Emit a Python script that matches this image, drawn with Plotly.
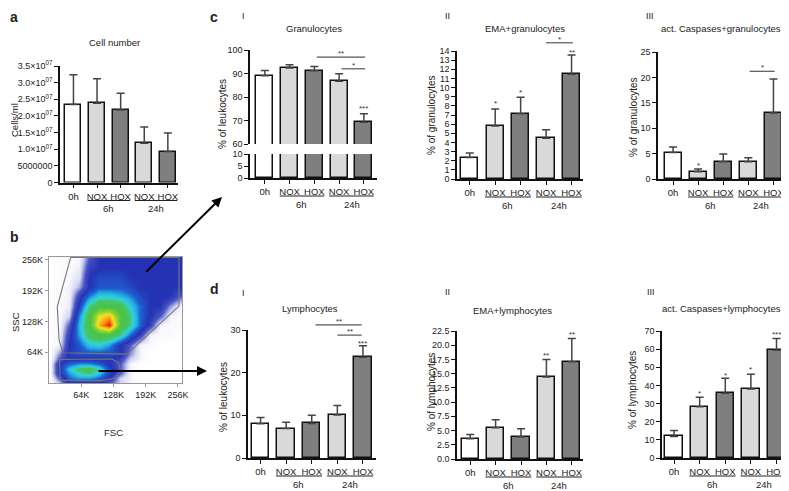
import plotly.graph_objects as go

# page body has an 8px margin: the figure is drawn at (8, 8) in the window
OFF = 8
W, H = 789 - OFF, 491 - OFF

# ---------------- data ----------------
categories = ["0h", "NOX", "HOX", "NOX", "HOX"]
groups = ["6h", "24h"]
fill_colors = ["#ffffff", "#d9d9d9", "#7f7f7f", "#d9d9d9", "#7f7f7f"]

cell_mean = [2.34e7, 2.38e7, 2.18e7, 1.18e7, 0.93e7]
cell_sem = [0.90e7, 0.74e7, 0.50e7, 0.49e7, 0.56e7]
cell_tickvals = [0, 5e6, 1e7, 1.5e7, 2e7, 2.5e7, 3e7, 3.5e7]
cell_ticktext = ["0", "5000000", "1.0×10<sup>07</sup>", "1.5×10<sup>07</sup>",
                 "2.0×10<sup>07</sup>", "2.5×10<sup>07</sup>", "3.0×10<sup>07</sup>",
                 "3.5×10<sup>07</sup>"]

gran_mean = [89.0, 92.3, 91.2, 86.7, 69.3]
gran_sem = [2.3, 1.4, 1.8, 3.2, 3.6]
gran_stars = [(4, 76.0, "***")]
gran_lines = [(2.1, 4.05, 97.0, "**"), (3.1, 4.05, 92.0, "*")]

emag_mean = [2.35, 5.8, 7.15, 4.45, 11.45]
emag_sem = [0.5, 1.85, 1.8, 0.95, 2.1]
emag_stars = [(1, 8.5, "*"), (2, 9.7, "*"), (4, 14.0, "**")]
emag_lines = [(3.0, 4.05, 14.9, "*")]

casg_mean = [5.2, 1.45, 3.4, 3.4, 13.0]
casg_sem = [1.1, 0.5, 1.5, 0.8, 6.7]
casg_stars = [(1, 3.0, "*")]
casg_lines = [(3.05, 4.05, 21.2, "*")]

lym_mean = [8.0, 6.9, 8.1, 10.1, 23.6]
lym_sem = [1.5, 1.5, 1.9, 2.2, 2.7]
lym_stars = [(4, 27.3, "***")]
lym_lines = [(2.15, 3.95, 31.2, "**"), (3.0, 3.95, 28.8, "**")]

emal_mean = [3.55, 5.5, 3.85, 14.4, 17.1]
emal_sem = [0.75, 1.4, 1.45, 3.1, 4.1]
emal_stars = [(3, 18.6, "**"), (4, 22.3, "**")]

casl_mean = [11.9, 28.3, 35.7, 38.0, 59.4]
casl_sem = [3.3, 5.2, 8.2, 8.1, 6.4]
casl_stars = [(1, 36.8, "*"), (2, 46.6, "*"), (3, 50.0, "*"), (4, 69.0, "***")]

# flow cytometry density (FSC / SSC in thousands)
fsc_k = [0, 20, 40, 60, 80, 100, 120, 140, 160, 180, 200, 220, 240, 260]
ssc_k = [0, 10, 20, 30, 40, 50, 60, 80, 100, 120, 140, 160, 180, 200, 220, 240, 260]
density = [
    [0, 1.0, 3.0, 3.0, 3.0, 3.0, 2.0, 1.0, 0.5, 0, 0, 0, 0, 0],
    [0, 2.0, 4.0, 4.5, 4.5, 4.0, 3.0, 1.0, 0.5, 0, 0, 0, 0, 0],
    [0, 3.0, 4.5, 5.5, 6.0, 5.0, 3.5, 2.0, 0.5, 0, 0, 0, 0, 0],
    [0, 3.0, 5.0, 6.2, 6.6, 5.5, 3.5, 2.0, 0.5, 0, 0, 0, 0, 0],
    [0, 3.0, 4.0, 4.5, 4.5, 4.0, 3.0, 2.0, 0.5, 0, 0, 0, 0, 0],
    [0, 2.0, 3.0, 3.0, 3.0, 3.0, 3.0, 2.5, 1.0, 0.5, 0, 0, 0, 0],
    [0, 1.5, 3.2, 3.6, 3.6, 3.6, 3.6, 3.2, 1.5, 0.5, 0, 0, 0, 0],
    [0, 0.6, 3.0, 3.8, 5.0, 5.2, 4.5, 3.0, 2.0, 0.5, 0.3, 0, 0, 0],
    [0, 0.4, 2.6, 4.6, 6.3, 6.8, 6.8, 5.8, 4.0, 2.5, 0.5, 0.3, 0.3, 0],
    [0, 0.3, 2.0, 4.8, 6.8, 9.0, 10.0, 7.2, 5.8, 4.0, 2.5, 0.5, 0.3, 0.3],
    [0, 0.3, 1.0, 4.3, 6.8, 8.5, 9.0, 7.2, 5.8, 4.0, 3.0, 2.0, 0.5, 0.3],
    [0, 0.3, 0.6, 3.3, 5.8, 6.8, 6.8, 6.6, 5.2, 4.0, 3.0, 3.0, 1.5, 0.5],
    [0, 0.3, 0.5, 2.5, 4.2, 5.2, 5.2, 4.8, 4.3, 3.5, 3.0, 3.0, 3.0, 2.0],
    [0, 0.3, 0.5, 1.3, 3.0, 3.8, 3.8, 3.8, 3.5, 3.0, 3.0, 3.0, 3.0, 3.0],
    [0, 0.2, 0.4, 0.8, 3.0, 3.5, 3.5, 3.5, 3.0, 3.0, 3.0, 3.0, 3.0, 3.0],
    [0, 0.2, 0.3, 0.6, 2.5, 3.0, 3.0, 3.0, 3.0, 3.0, 3.0, 3.0, 3.0, 3.0],
    [0, 0.2, 0.3, 0.4, 2.0, 3.0, 3.0, 3.0, 3.0, 3.0, 3.0, 3.0, 3.0, 3.0],
]
gran_gate_x = [43, 16.5, 20, 28, 155, 258, 258, 43]
gran_gate_y = [261, 159, 89, 63, 60, 160, 261, 261]
lym_gate_x = [21, 22, 105, 130, 142, 138, 125, 21]
lym_gate_y = [49, 6, 5, 10, 25, 42, 50, 49]
flow_tickvals = [64, 128, 192, 256]
flow_ticktext = ["64K", "128K", "192K", "256K"]

# ---------------- helpers ----------------
FONT = "Liberation Sans, Arial, sans-serif"


def px(x):
    return (x - OFF) / W


def py(y):
    return 1 - (y - OFF) / H


def ref(kind, n):
    return kind if n == 1 else f"{kind}{n}"


def axname(kind, n):
    return f"{kind}axis" if n == 1 else f"{kind}axis{n}"


fig = go.Figure()
axes = {}
annotations = []
shapes = []


def add_panel(n, means, sems, xdom, xr, ydom, yr, ytickvals, yticktext=None,
              yfmt=None, show_x=True, err=True):
    xa, ya = ref("x", n), ref("y", n)
    fig.add_trace(go.Bar(
        x=list(range(len(categories))), y=means, xaxis=xa, yaxis=ya, width=0.68,
        marker=dict(color=fill_colors, line=dict(color="#111111", width=1.5)),
        error_y=dict(type="data", symmetric=False, array=sems,
                     arrayminus=[0] * len(sems), color="#444444",
                     thickness=1.5, width=4, visible=err),
        showlegend=False, hoverinfo="skip"))
    axes[axname("x", n)] = dict(
        domain=[px(xdom[0]), px(xdom[1])], range=list(xr), anchor=ya,
        visible=show_x, showline=True, linecolor="#111111", linewidth=1.5,
        ticks="outside", ticklen=4, tickwidth=1.2, tickcolor="#111111",
        tickvals=list(range(len(categories))), ticktext=categories,
        tickfont=dict(size=9.5, color="#222222", family=FONT),
        showgrid=False, zeroline=False, fixedrange=True, automargin=False)
    yax = dict(
        domain=[py(ydom[1]), py(ydom[0])], range=list(yr), anchor=xa,
        showline=True, linecolor="#111111", linewidth=1.5,
        ticks="outside", ticklen=4, tickwidth=1.2, tickcolor="#111111",
        tickvals=ytickvals, tickfont=dict(size=9, color="#222222", family=FONT),
        showgrid=False, zeroline=False, fixedrange=True, automargin=False)
    if yticktext is not None:
        yax["ticktext"] = yticktext
    if yfmt is not None:
        yax["tickformat"] = yfmt
    axes[axname("y", n)] = yax


def add_groups(n, bottom):
    xa = ref("x", n)
    for (x0, x1), label in zip([(0.6, 2.4), (2.6, 4.4)], groups):
        shapes.append(dict(type="line", xref=xa, yref="paper", x0=x0, x1=x1,
                           y0=py(bottom + 18), y1=py(bottom + 18),
                           line=dict(color="#222222", width=1.2)))
        annotations.append(dict(x=(x0 + x1) / 2, y=py(bottom + 26), xref=xa,
                                yref="paper", text=label, showarrow=False,
                                xanchor="center", yanchor="middle",
                                font=dict(size=9.5, color="#222222")))


def add_stars(n, yr, stars, lines=()):
    xa, ya = ref("x", n), ref("y", n) + " domain"
    for x, v, t in stars:
        annotations.append(dict(x=x, y=(v - yr[0]) / (yr[1] - yr[0]), xref=xa,
                                yref=ya, text=t, showarrow=False, yshift=-2,
                                xanchor="center", yanchor="middle",
                                font=dict(size=8, color="#333333")))
    for x0, x1, v, t in lines:
        yy = (v - yr[0]) / (yr[1] - yr[0])
        shapes.append(dict(type="line", xref=xa, yref=ya, x0=x0, x1=x1, y0=yy,
                           y1=yy, line=dict(color="#555555", width=1.2)))
        annotations.append(dict(x=(x0 + x1) / 2, y=yy, xref=xa, yref=ya, text=t,
                                showarrow=False, xanchor="center",
                                yanchor="bottom", yshift=-3,
                                font=dict(size=8, color="#333333")))


def text(x, y, s, size=9.5, angle=0, bold=False):
    annotations.append(dict(x=px(x), y=py(y), xref="paper", yref="paper",
                            text=f"<b>{s}</b>" if bold else s, showarrow=False,
                            textangle=angle, xanchor="center", yanchor="middle",
                            font=dict(size=size, color="#222222")))


# ---------------- panel a ----------------
add_panel(1, cell_mean, cell_sem, (60, 178), (-0.57, 4.43), (66, 182.5),
          (0, 3.5e7), cell_tickvals, cell_ticktext)
add_groups(1, 182.5)
text(114, 42, "Cell number", 9.5)
text(14, 120, "Cells/ml", 9.5, -90)

# ---------------- panel c ----------------
yr_up, yr_lo = (60, 100), (0, 10)
add_panel(2, gran_mean, gran_sem, (250, 377), (-0.6, 4.53), (50, 144), yr_up,
          [60, 70, 80, 90, 100], show_x=False)
add_panel(3, gran_mean, gran_sem, (250, 377), (-0.6, 4.53), (154, 178), yr_lo,
          [0, 5, 10], err=False)
add_groups(3, 178)
add_stars(2, yr_up, gran_stars, gran_lines)

yr = (0, 14)
add_panel(4, emag_mean, emag_sem, (457, 583), (-0.5, 4.45), (51, 179), yr,
          list(range(15)))
add_groups(4, 179)
add_stars(4, yr, emag_stars, emag_lines)

yr = (0, 25)
add_panel(5, casg_mean, casg_sem, (658, 787), (-0.6, 4.54), (52, 179), yr,
          [0, 5, 10, 15, 20, 25])
add_groups(5, 179)
add_stars(5, yr, casg_stars, casg_lines)

# ---------------- panel d ----------------
yr = (0, 30)
add_panel(6, lym_mean, lym_sem, (248, 376), (-0.49, 4.51), (330, 458), yr,
          [0, 10, 20, 30])
add_groups(6, 458)
add_stars(6, yr, lym_stars, lym_lines)

yr = (0, 22.5)
add_panel(7, emal_mean, emal_sem, (457, 583), (-0.52, 4.44), (331, 459), yr,
          [0, 2.5, 5, 7.5, 10, 12.5, 15, 17.5, 20, 22.5], yfmt=".1f")
add_groups(7, 459)
add_stars(7, yr, emal_stars)

yr = (0, 70)
add_panel(8, casl_mean, casl_sem, (662, 787), (-0.47, 4.41), (331, 458), yr,
          [0, 10, 20, 30, 40, 50, 60, 70])
add_groups(8, 458)
add_stars(8, yr, casl_stars)

# ---------------- panel b (flow cytometry) ----------------
jet = [[0.0, "#ffffff"], [0.04, "#f8f8fd"], [0.1, "#d2d5f1"], [0.2, "#4a54c6"],
       [0.3, "#2433b4"], [0.4, "#1f5fd0"], [0.47, "#22b4e4"], [0.53, "#35d0d8"],
       [0.6, "#44c666"], [0.7, "#4cc244"], [0.78, "#86d230"], [0.86, "#f2e422"],
       [0.93, "#ff8a10"], [1.0, "#ee1212"]]
fig.add_trace(go.Heatmap(x=fsc_k, y=ssc_k, z=density, xaxis="x9", yaxis="y9",
                         colorscale=jet, zmin=0, zmax=10, zsmooth="best",
                         showscale=False, hoverinfo="skip"))
for gx, gy in [(gran_gate_x, gran_gate_y), (lym_gate_x, lym_gate_y)]:
    fig.add_trace(go.Scatter(x=gx, y=gy, xaxis="x9", yaxis="y9", mode="lines",
                             line=dict(color="#777777", width=1.1),
                             showlegend=False, hoverinfo="skip"))
flow_ax = dict(showline=True, mirror=True, linecolor="#999999", linewidth=1.2,
               ticks="outside", ticklen=3, tickcolor="#999999",
               tickvals=flow_tickvals, ticktext=flow_ticktext,
               tickfont=dict(size=9, color="#222222", family=FONT),
               showgrid=False, zeroline=False, fixedrange=True, automargin=False)
axes["xaxis9"] = dict(flow_ax, domain=[px(49), px(182)], range=[0, 264],
                      anchor="y9")
axes["yaxis9"] = dict(flow_ax, domain=[py(383), py(257)], range=[0, 262],
                      anchor="x9")
text(15, 322, "SSC", 9.5, -90)
text(113, 432, "FSC", 9.5)

# ---------------- labels ----------------
text(14, 17, "a", 14, bold=True)
text(14, 237, "b", 14, bold=True)
text(214, 17, "c", 14, bold=True)
text(214, 289, "d", 14, bold=True)
text(243, 16, "I", 9)
text(447, 16, "II", 9)
text(650, 16, "III", 9)
text(243, 293, "I", 9)
text(447, 292, "II", 9)
text(651, 292, "III", 9)
text(314, 28, "Granulocytes")
text(525, 29, "EMA+granulocytes")
text(721, 29, "act. Caspases+granulocytes")
text(310, 308, "Lymphocytes")
text(512, 310, "EMA+lymphocytes")
text(721, 308, "act. Caspases+lymphocytes")
text(222, 114, "% of leukocytes", 10, -90)
text(432, 115, "% of granulocytes", 10, -90)
text(633, 117, "% of granulocytes", 10, -90)
text(223, 397, "% of leukocytes", 10, -90)
text(431, 392, "% of lymphocytes", 10, -90)
text(632, 390, "% of lymphocytes", 10, -90)

# arrows from the scatter plot
annotations.append(dict(x=px(222), y=py(197), xref="paper", yref="paper",
                        ax=-77, ay=76, axref="pixel", ayref="pixel", text="",
                        showarrow=True, arrowhead=2, arrowsize=1, arrowwidth=2,
                        arrowcolor="#000000"))
annotations.append(dict(x=px(207), y=py(371), xref="paper", yref="paper",
                        ax=-110, ay=0, axref="pixel", ayref="pixel", text="",
                        showarrow=True, arrowhead=2, arrowsize=1, arrowwidth=2,
                        arrowcolor="#000000"))

fig.update_layout(template="none", width=W, height=H,
                  margin=dict(l=0, r=0, t=0, b=0, autoexpand=False),
                  paper_bgcolor="white", plot_bgcolor="white", showlegend=False,
                  bargap=0, font=dict(family=FONT, color="#222222"),
                  annotations=annotations, shapes=shapes, **axes)
fig.write_html("out.html")
